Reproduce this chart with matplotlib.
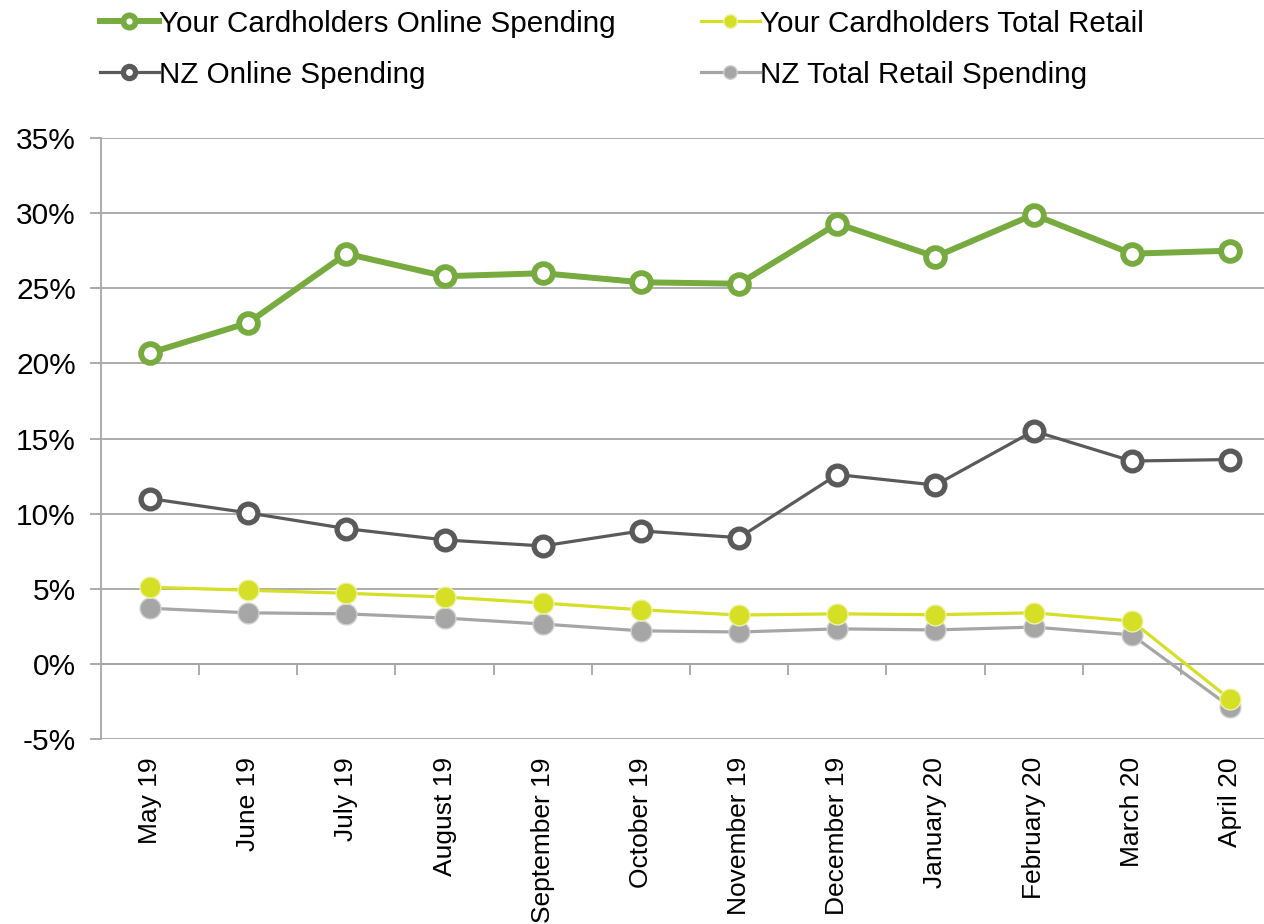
import matplotlib
matplotlib.use('Agg')
import matplotlib.pyplot as plt
from matplotlib.ticker import FuncFormatter, MultipleLocator, FixedLocator
import numpy as np

months = ['May 19', 'June 19', 'July 19', 'August 19', 'September 19', 'October 19',
          'November 19', 'December 19', 'January 20', 'February 20', 'March 20', 'April 20']

# values in percent
your_online = [20.7, 22.7, 27.3, 25.8, 26.0, 25.4, 25.3, 29.3, 27.1, 29.9, 27.3, 27.5]
nz_online = [11.0, 10.05, 9.0, 8.25, 7.85, 8.85, 8.4, 12.6, 11.9, 15.5, 13.5, 13.6]
your_retail = [5.1, 4.9, 4.7, 4.45, 4.05, 3.6, 3.25, 3.33, 3.27, 3.4, 2.85, -2.35]
nz_retail = [3.7, 3.4, 3.33, 3.05, 2.65, 2.2, 2.12, 2.33, 2.26, 2.45, 1.93, -2.85]

GREEN = '#77ab3f'
DARK = '#5a5a5a'
YELLOW = '#d5df25'
LIGHT = '#a6a6a6'
GRID = '#a6a6a6'

plt.rcParams['font.family'] = ['Liberation Sans', 'DejaVu Sans']

fig = plt.figure(figsize=(12.64, 9.24), dpi=100)
ax = fig.add_axes([101 / 1264, 1 - 739 / 924, 1178 / 1264, 601 / 924])

x = np.arange(len(months))

l1, = ax.plot(x, your_online, color=GREEN, lw=4.3, marker='o', ms=13.5,
              mfc='white', mec=GREEN, mew=4.2, zorder=5,
              label='Your Cardholders Online Spending')
l2, = ax.plot(x, nz_online, color=DARK, lw=2.3, marker='o', ms=13.5,
              mfc='white', mec=DARK, mew=3.8, zorder=4,
              label='NZ Online Spending')
l3, = ax.plot(x, your_retail, color=YELLOW, lw=2.3, marker='o', ms=15,
              mfc=YELLOW, mec='#eef2a8', mew=1.0, zorder=4,
              label='Your Cardholders Total Retail')
l4, = ax.plot(x, nz_retail, color=LIGHT, lw=2.3, marker='o', ms=15,
              mfc=LIGHT, mec='#d0d0d0', mew=1.0, zorder=3,
              label='NZ Total Retail Spending')

ax.set_xlim(-0.5, len(months) - 0.5)
ax.set_ylim(-5, 35)
ax.yaxis.set_major_locator(MultipleLocator(5))
ax.yaxis.set_major_formatter(FuncFormatter(lambda v, p: f'{v:.0f}%'))
ax.grid(axis='y', color=GRID, lw=1.3)
ax.set_axisbelow(True)

for s in ['top', 'right']:
    ax.spines[s].set_visible(False)
ax.spines['left'].set_color(GRID)
ax.spines['left'].set_linewidth(1.3)
# x axis line sits at 0% with category boundary ticks
ax.spines['bottom'].set_position(('data', 0))
ax.spines['bottom'].set_color(GRID)
ax.spines['bottom'].set_linewidth(1.3)
ax.xaxis.set_major_locator(FixedLocator(x + 0.5))
ax.xaxis.set_major_formatter(FuncFormatter(lambda v, p: ''))
ax.tick_params(axis='x', direction='out', length=8, width=1.3, color=GRID)
ax.tick_params(axis='y', direction='out', length=8, width=1.3, color=GRID,
               labelsize=21.5, pad=10)

# category labels below the plot area
sec = ax.secondary_xaxis('bottom')
sec.set_xticks(x)
sec.set_xticklabels(months, rotation=90, fontsize=19)
sec.tick_params(length=0, pad=13)
sec.spines['bottom'].set_visible(False)

fig.legend(handles=[l1, l2, l3, l4], ncol=2, loc='upper left',
           bbox_to_anchor=(88 / 1264, 1 + 2 / 924), frameon=False,
           fontsize=21.3, handlelength=2.0, handletextpad=0.0,
           columnspacing=2.87, labelspacing=0.77, borderaxespad=0,
           markerscale=0.65)

fig.savefig('out.png', dpi=100)
